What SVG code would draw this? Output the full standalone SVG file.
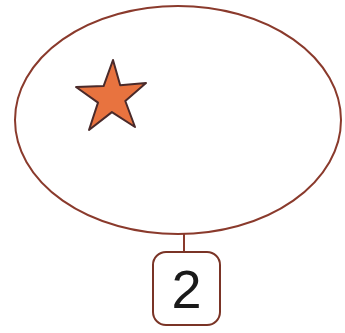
<svg xmlns="http://www.w3.org/2000/svg" width="345" height="333" viewBox="0 0 345 333">
<style>
.line{fill:none;stroke:#8a3a2c;stroke-width:2}
.box{fill:#ffffff;stroke:#7a3426;stroke-width:2}
.lbl{font-family:"Liberation Sans",Arial,sans-serif;font-size:54px;fill:#1a1a1a;text-anchor:middle}
</style>
<rect width="345" height="333" fill="#ffffff"/>
<g id="set">
<ellipse cx="178" cy="120" rx="163" ry="114" class="line"/>
<polygon points="113,60 120.2,85.2 146,83 125.3,101 135,127 111.9,112.1 89,130 98,102.6 76,87 103.6,86.1" fill="#e8733f" stroke="#4a2a2a" stroke-width="2" stroke-linejoin="round"/>
</g>
<g id="connectors">
<line x1="184" y1="234" x2="184" y2="252" class="line"/>
</g>
<g id="label">
<rect x="153" y="252" width="67" height="73" rx="13" class="box"/>
<text x="186.5" y="308" class="lbl">2</text>
</g>
</svg>
